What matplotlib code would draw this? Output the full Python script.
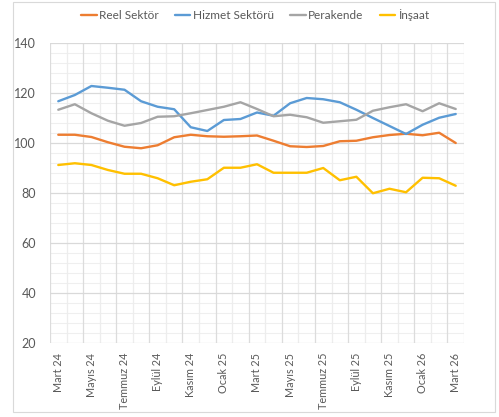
import matplotlib
matplotlib.use("Agg")
import matplotlib.pyplot as plt
from matplotlib.patches import Rectangle
import numpy as np

plt.rcParams['font.family'] = ['Lato', 'DejaVu Sans']

months = ["Mart 24", "Nisan 24", "Mayıs 24", "Haziran 24", "Temmuz 24", "Ağustos 24",
          "Eylül 24", "Ekim 24", "Kasım 24", "Aralık 24", "Ocak 25", "Şubat 25",
          "Mart 25", "Nisan 25", "Mayıs 25", "Haziran 25", "Temmuz 25", "Ağustos 25",
          "Eylül 25", "Ekim 25", "Kasım 25", "Aralık 25", "Ocak 26", "Şubat 26", "Mart 26"]

reel_sektor = [103.3, 103.3, 102.4, 100.3, 98.5, 97.9, 99.1, 102.3, 103.3, 102.7,
               102.5, 102.7, 103.0, 100.9, 98.7, 98.4, 98.8, 100.7, 100.9, 102.3,
               103.2, 103.7, 103.1, 104.1, 100.0]
hizmet_sektoru = [116.7, 119.2, 122.8, 122.1, 121.3, 116.7, 114.5, 113.5, 106.3, 104.8,
                  109.2, 109.6, 112.2, 110.9, 115.9, 118.0, 117.5, 116.3, 113.3, 110.0,
                  106.8, 103.6, 107.3, 110.1, 111.6]
perakende = [113.3, 115.5, 111.9, 108.9, 106.9, 108.0, 110.5, 110.7, 111.9, 113.2,
             114.5, 116.3, 113.6, 110.7, 111.3, 110.3, 108.1, 108.7, 109.3, 112.9,
             114.3, 115.5, 112.7, 115.9, 113.6]
insaat = [91.2, 91.9, 91.2, 89.2, 87.7, 87.7, 85.9, 83.1, 84.5, 85.5,
          90.1, 90.1, 91.5, 88.1, 88.1, 88.1, 90.0, 85.1, 86.5, 79.9,
          81.7, 80.3, 86.1, 85.9, 82.9]

series = [
    ("Reel Sektör", reel_sektor, "#ED7D31"),
    ("Hizmet Sektörü", hizmet_sektoru, "#5B9BD5"),
    ("Perakende", perakende, "#A5A5A5"),
    ("İnşaat", insaat, "#FFC000"),
]

W, H = 499, 417
fig = plt.figure(figsize=(W / 100, H / 100), dpi=100)
fig.patch.set_facecolor("white")

# outer chart border
fig.patches.append(Rectangle((13 / W, 1 - 412 / H), (495 - 13) / W, (412 - 2) / H,
                             transform=fig.transFigure, fill=False,
                             edgecolor="#D9D9D9", linewidth=0.8))

ax = fig.add_axes([50 / W, 1 - 343 / H, (464 - 50) / W, (343 - 43) / H])
n = len(months)
x = np.arange(n)

ax.set_xlim(-0.5, n - 0.5)
ax.set_ylim(20, 140)

# grid: minor horizontals every 4, majors every 20
for v in np.arange(20, 141, 4):
    if v % 20 != 0:
        ax.axhline(v, color="#EFEFEF", lw=0.8, zorder=0)
for v in np.arange(20, 141, 20):
    ax.axhline(v, color="#D9D9D9", lw=0.9, zorder=0.5)
# vertical lines at category boundaries
for b in range(n + 1):
    ax.axvline(b - 0.5, color="#DCDCDC" if b % 2 == 0 else "#EDEDED",
               lw=0.9, zorder=0)

for name, vals, col in series:
    ax.plot(x, vals, color=col, lw=1.7, label=name, zorder=3,
            solid_joinstyle="round", solid_capstyle="round")

for s in ax.spines.values():
    s.set_visible(False)

ax.set_yticks(np.arange(20, 141, 20))
ax.set_xticks(x[::2])
ax.set_xticklabels(months[::2], rotation=90, fontsize=7.8, color="#595959")
ax.tick_params(axis="y", length=0, pad=10, labelsize=9, labelcolor="#595959")
ax.tick_params(axis="x", length=0, pad=7)

fig.legend(loc="center", bbox_to_anchor=(255 / W, 1 - 15 / H), ncol=4,
           frameon=False, fontsize=8.5, handlelength=1.3, handletextpad=0.2,
           columnspacing=1.4, labelcolor="#595959")

fig.savefig("out.png", dpi=100, facecolor="white")
